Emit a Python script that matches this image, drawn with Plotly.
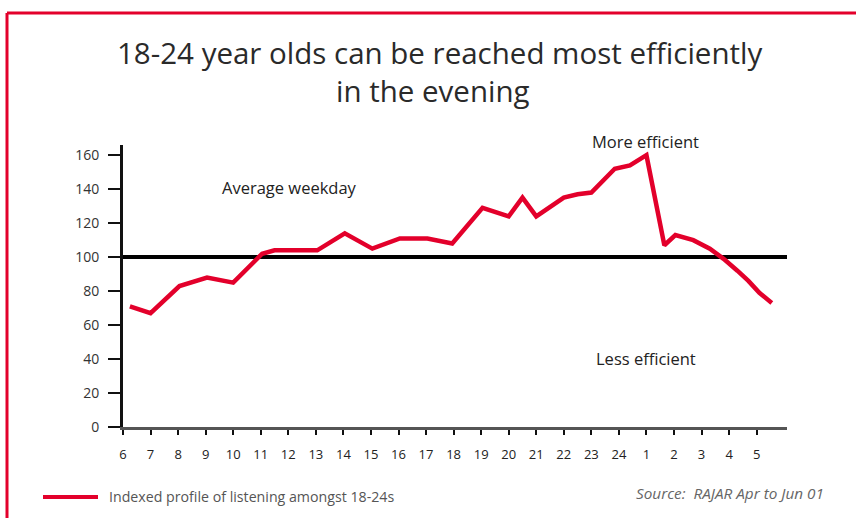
import plotly.graph_objects as go

# Hour of day (6 = 06:00 ... 24 = midnight, 25..29 = 01:00..05:00 next morning)
hours = [6.25, 7.0, 8.05, 9.05, 10.0, 11.05, 11.5, 13.05, 14.05, 15.05, 16.05,
         17.05, 17.95, 19.05, 20.0, 20.5, 21.0, 22.0, 22.5, 23.0, 23.85, 24.4,
         25.0, 25.65, 26.05, 26.7, 27.3, 27.8, 28.3, 28.7, 29.1, 29.55]
index_values = [71, 67, 83, 88, 85, 102, 104, 104, 114, 105, 111,
                111, 108, 129, 124, 135, 124, 135, 137, 138, 152, 154,
                160, 107, 113, 110, 105, 99, 92, 86, 79, 73]

tick_hours = list(range(6, 30))
tick_labels = [str(h if h <= 24 else h - 24) for h in tick_hours]
y_ticks = [0, 20, 40, 60, 80, 100, 120, 140, 160]
baseline = 100

series_name = "Indexed profile of listening amongst 18-24s"
title_lines = ["18-24 year olds can be reached most efficiently", "in the evening"]
source_text = "Source:  RAJAR Apr to Jun 01"

RED = "#e3002b"
FONT = "Open Sans"

W, H = 856, 518
M_L, M_R, M_T, M_B = 123, 69, 145, 91
PW, PH = W - M_L - M_R, H - M_T - M_B


def px(x):
    return (x - M_L) / PW


def py(y):
    return (H - M_B - y) / PH


fig = go.Figure()
fig.add_trace(go.Scatter(
    x=hours, y=index_values, mode="lines", name=series_name,
    line=dict(color=RED, width=4.5), showlegend=False,
))

shapes = [
    # index = 100 reference line
    dict(type="line", xref="paper", yref="y", x0=0, x1=1, y0=baseline, y1=baseline,
         line=dict(color="#000000", width=4), layer="below"),
    # red frame (top and left edges)
    dict(type="line", xref="paper", yref="paper", x0=px(7), x1=px(W + 5), y0=py(13), y1=py(13),
         line=dict(color=RED, width=3)),
    dict(type="line", xref="paper", yref="paper", x0=px(7), x1=px(7), y0=py(13), y1=py(H + 5),
         line=dict(color=RED, width=3)),
    # legend key
    dict(type="line", xref="paper", yref="paper", x0=px(43), x1=px(98), y0=py(497), y1=py(497),
         line=dict(color=RED, width=4)),
]

label_font = dict(family=FONT, size=16.5, color="#222222")
title_font = dict(family=FONT, size=29.5, color="#2a2a2a")
annotations = [
    dict(text=title_lines[0], xref="paper", yref="paper", x=px(439), y=py(52),
         showarrow=False, font=title_font, xanchor="center", yanchor="middle"),
    dict(text=title_lines[1], xref="paper", yref="paper", x=px(433), y=py(90),
         showarrow=False, font=title_font, xanchor="center", yanchor="middle"),
    dict(text="Average weekday", x=12.03, y=141, showarrow=False, font=label_font),
    dict(text="More efficient", xref="x", yref="paper", x=24.98, y=py(141),
         showarrow=False, yanchor="middle", font=label_font),
    dict(text="Less efficient", x=24.98, y=40.6, showarrow=False, font=label_font),
    dict(text=series_name, xref="paper", yref="paper", x=px(107), y=py(496),
         showarrow=False, xanchor="left", yanchor="middle",
         font=dict(family=FONT, size=14.2, color="#555555")),
    dict(text="<i>" + source_text + "</i>", xref="paper", yref="paper", x=px(826), y=py(493),
         showarrow=False, xanchor="right", yanchor="middle",
         font=dict(family=FONT, size=15.3, color="#666666")),
]

fig.update_layout(
    width=W, height=H,
    margin=dict(l=M_L, r=M_R, t=M_T, b=M_B, pad=0),
    paper_bgcolor="white", plot_bgcolor="white",
    showlegend=False,
    shapes=shapes, annotations=annotations,
    font=dict(family=FONT, size=12, color="#222222"),
)
fig.update_xaxes(
    range=[6, 6 + PW / 27.55], tickmode="array", tickvals=tick_hours, ticktext=tick_labels,
    showgrid=False, zeroline=False, showline=True, linecolor="#555555", linewidth=3,
    ticks="outside", ticklen=5, tickwidth=2, tickcolor="#111111",
    ticklabelstandoff=8, tickfont=dict(family=FONT, size=13, color="#222222"),
)
fig.update_yaxes(
    range=[0, 166], tickmode="array", tickvals=y_ticks,
    showgrid=False, zeroline=False, showline=True, linecolor="#111111", linewidth=3,
    ticks="outside", ticklen=12, tickwidth=2, tickcolor="#111111",
    ticklabelstandoff=6, tickfont=dict(family=FONT, size=14, color="#333333"),
)

fig.write_html("out.html")
